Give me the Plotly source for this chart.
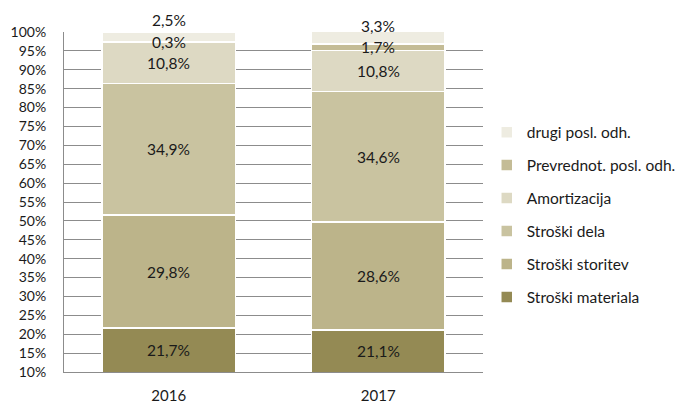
import plotly.graph_objects as go

years = ["2016", "2017"]
series_names = ["Stroški materiala", "Stroški storitev", "Stroški dela",
                "Amortizacija", "Prevrednot. posl. odh.", "drugi posl. odh."]
materiala = [21.7, 21.1]
storitev = [29.8, 28.6]
dela = [34.9, 34.6]
amortizacija = [10.8, 10.8]
prevrednot = [0.3, 1.7]
drugi = [2.5, 3.3]
y_ticks = list(range(10, 101, 5))

series_values = [materiala, storitev, dela, amortizacija, prevrednot, drugi]
colors = ["#948A54", "#BCB48A", "#C9C3A0", "#DDD9C3", "#C4BC96", "#EEECE1"]
FONT = "Lato, 'Open Sans', sans-serif"
Y_MIN, Y_MAX = 10, 100
top_label_y = [103.3, 101.5]  # manually placed labels of the top segment

fig = go.Figure()
n = len(series_names)
for s, (name, vals, col) in enumerate(zip(series_names, series_values, colors)):
    fig.add_trace(go.Bar(
        x=years, y=vals, name=name, legendgroup=name, legendrank=n - s,
        marker=dict(color=col, line=dict(color="white", width=1.5)),
        hoverinfo="skip",
    ))

annotations = []
for i, yr in enumerate(years):
    cum = 0
    for s, vals in enumerate(series_values):
        v = vals[i]
        lo = max(cum, Y_MIN)
        cum += v
        hi = min(cum, Y_MAX)
        ypos = top_label_y[i] if s == n - 1 else (lo + hi) / 2
        annotations.append(dict(
            x=i, y=(ypos - Y_MIN) / (Y_MAX - Y_MIN), xref="x", yref="paper",
            xanchor="center", yanchor="middle", showarrow=False,
            text=f"{v:.1f}".replace(".", ",") + "%",
            font=dict(family=FONT, size=15.5, color="#1a1a1a"),
        ))

fig.update_layout(
    barmode="stack", bargap=0.365,
    width=684, height=403,
    margin=dict(l=64, r=201, t=32, b=31, autoexpand=False),
    plot_bgcolor="white", paper_bgcolor="white",
    font=dict(family=FONT, size=14, color="#1a1a1a"),
    showlegend=True,
    legend=dict(
        x=1.009, y=0.463, xanchor="left", yanchor="middle",
        traceorder="grouped", tracegroupgap=9.8,
        font=dict(family=FONT, size=15.5, color="#1a1a1a"),
        itemwidth=30,
    ),
    annotations=annotations,
)
fig.update_yaxes(
    range=[Y_MIN, Y_MAX], tickvals=y_ticks, ticktext=[f"{t}%" for t in y_ticks],
    showgrid=True, gridcolor="#8c8c8c", gridwidth=1,
    showline=True, linecolor="#8c8c8c", linewidth=1,
    ticks="", ticklabelstandoff=14, zeroline=False, automargin=False,
    tickfont=dict(family=FONT, size=14, color="#1a1a1a"),
)
fig.update_xaxes(
    type="category", range=[-0.5, 1.5],
    showline=True, linecolor="#8c8c8c", linewidth=1,
    ticks="", ticklabelstandoff=10, automargin=False,
    tickfont=dict(family=FONT, size=15, color="#1a1a1a"),
)

fig.write_html("out.html", config={"displayModeBar": False},
               post_script="document.body.style.margin='0';document.body.style.padding='0';")
